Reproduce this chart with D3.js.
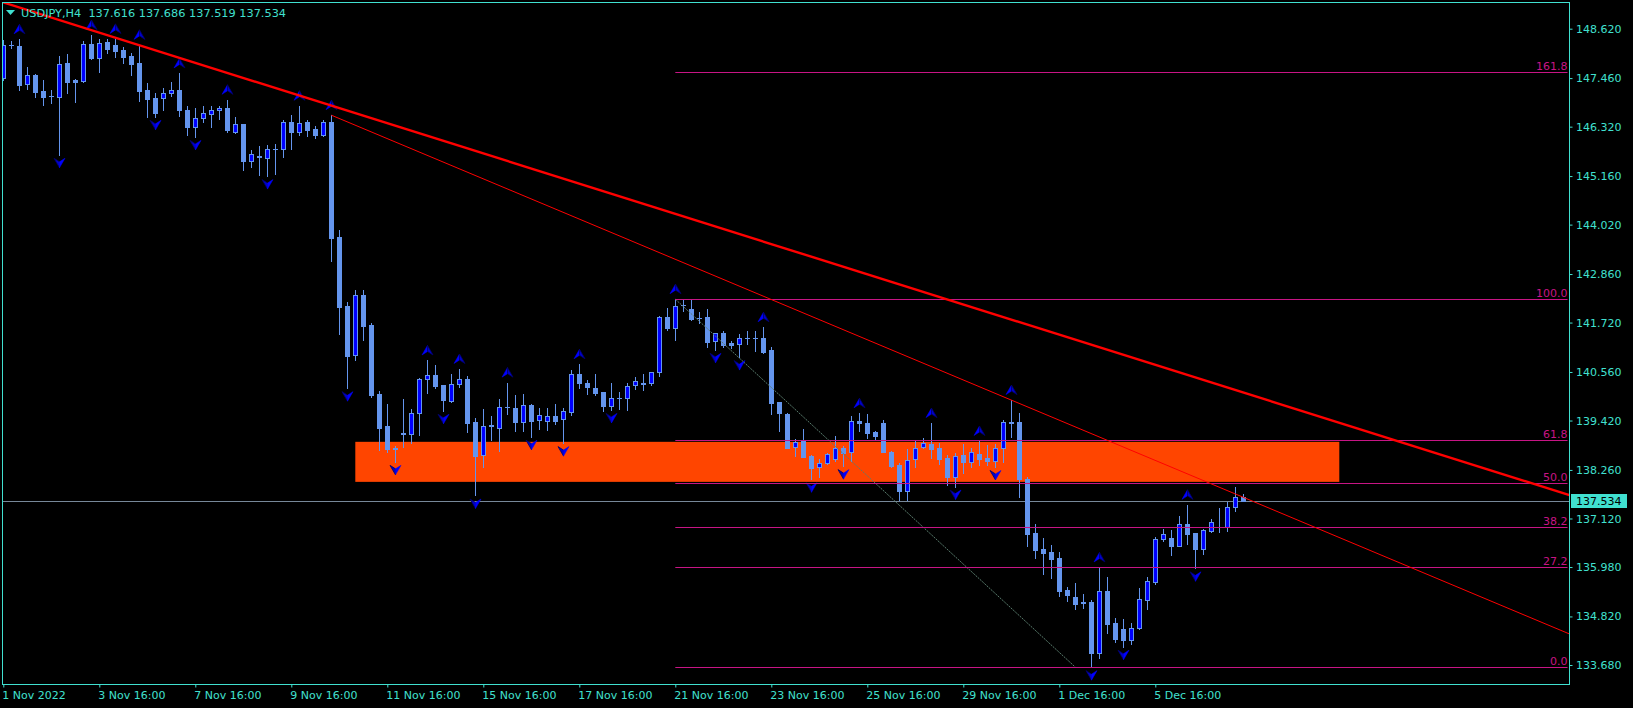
<!DOCTYPE html>
<html><head><meta charset="utf-8">
<script src="https://cdn.jsdelivr.net/npm/d3@7"></script>
<style>html,body{margin:0;padding:0;background:#000;overflow:hidden}</style>
</head><body><svg id="c" width="1633" height="708"></svg>
<script>
// ---------- DATA ----------
const symbol = "USDJPY,H4";
const quote = [137.616, 137.686, 137.519, 137.534];
const opens = [147.46,148.24,148.21,147.32,147.53,147.16,147.04,147.01,147.81,147.42,147.39,148.26,147.94,148.30,148.24,148.12,147.98,147.82,147.18,146.99,
147.00,147.10,147.18,146.71,146.32,146.52,146.61,146.70,146.76,146.20,146.38,145.52,145.63,145.59,145.79,145.79,146.43,146.20,146.43,146.27,
146.12,146.43,143.73,142.11,140.96,142.37,141.66,140.04,139.28,138.77,139.13,139.10,139.59,140.39,140.48,140.25,139.87,140.27,140.40,139.38,
138.60,139.32,139.24,139.74,139.72,139.39,139.79,139.43,139.41,139.53,139.45,139.63,140.51,140.30,140.18,140.09,139.77,139.94,139.94,140.25,
140.28,140.29,140.55,141.84,141.60,142.13,142.03,141.83,141.84,141.29,141.47,141.25,141.21,141.35,141.35,141.35,141.08,139.85,139.57,138.79,
138.94,138.59,138.32,138.42,138.51,138.78,138.67,139.41,139.36,139.14,139.36,138.69,138.38,137.77,138.51,138.81,138.87,138.78,138.53,138.10,
138.61,138.45,138.63,138.55,138.48,138.77,139.38,139.38,138.05,136.77,136.40,136.33,136.19,135.44,135.27,135.17,135.15,133.97,135.42,134.66,
134.53,134.26,134.54,135.21,135.64,136.63,136.67,136.48,136.99,136.78,136.40,136.83,136.93,136.93,137.38,137.616];
const highs = [148.36,148.32,148.37,147.73,147.56,147.42,147.18,147.98,148.03,147.43,148.32,148.47,148.38,148.37,148.38,148.18,148.04,148.24,147.34,147.10,
147.22,147.36,147.57,146.81,146.75,146.81,146.81,146.81,146.95,146.55,146.39,145.77,145.87,145.89,145.91,146.48,146.59,146.81,146.48,146.34,
146.48,146.59,143.89,142.21,142.49,142.49,141.72,140.11,139.81,138.82,139.93,139.69,140.43,140.83,140.72,140.26,140.51,140.63,140.47,139.48,
139.69,139.53,139.93,140.31,140.02,140.04,139.81,139.72,139.72,139.80,139.71,140.61,140.74,140.37,140.51,140.10,140.29,140.10,140.29,140.44,
140.51,140.56,141.88,142.07,142.27,142.25,142.25,141.96,142.03,141.47,141.53,141.29,141.44,141.52,141.52,141.61,141.14,139.86,139.59,138.98,
139.22,138.60,138.52,138.65,139.06,138.82,139.53,139.59,139.57,139.17,139.43,138.70,138.42,138.75,138.94,139.00,139.36,138.89,138.61,138.65,
138.86,138.77,138.94,138.85,138.87,139.43,139.90,139.60,138.10,136.99,136.67,136.50,136.33,135.52,135.60,135.34,135.21,135.97,135.74,134.78,
134.75,134.66,135.48,135.75,136.69,136.87,136.85,137.19,137.44,136.79,136.87,137.10,137.36,137.50,137.85,137.686];
const lows = [147.42,148.16,147.18,147.20,147.02,146.83,146.87,145.66,147.12,146.91,147.36,147.91,147.61,148.06,147.96,147.82,147.53,146.92,146.55,146.55,
146.70,147.05,146.57,146.12,146.08,146.44,146.32,146.50,146.20,146.16,145.30,145.38,145.19,145.16,145.21,145.60,145.80,146.12,146.10,146.06,
146.11,143.17,141.45,140.18,140.83,141.31,139.98,138.73,138.67,138.45,138.79,138.90,139.09,140.07,140.19,139.65,139.86,140.21,139.16,137.66,
138.34,138.96,138.70,139.57,139.17,139.17,139.04,139.23,139.20,139.34,138.89,139.55,140.18,140.04,140.02,139.65,139.67,139.69,139.67,140.16,
140.14,140.25,140.47,141.55,141.31,142.00,141.78,141.70,141.15,141.08,141.14,141.13,140.91,141.21,141.05,141.00,139.57,139.17,138.77,138.59,
138.56,138.04,138.09,138.39,138.48,138.35,138.48,139.18,139.02,138.98,138.67,138.34,137.55,137.55,138.34,138.77,138.53,138.39,137.91,137.87,
138.18,138.32,138.38,138.38,138.33,138.45,139.04,137.63,136.48,136.20,135.82,135.73,135.31,135.19,135.00,135.03,133.63,133.85,134.42,134.23,
134.11,134.17,134.53,135.00,135.58,136.60,136.26,136.47,136.52,135.95,136.29,136.81,136.80,136.83,137.30,137.519];
const closes = [148.24,148.23,147.30,147.53,147.14,147.02,147.03,147.78,147.38,147.38,148.25,147.94,148.28,148.14,148.10,147.96,147.79,147.16,146.97,146.65,
147.10,147.18,146.70,146.32,146.52,146.63,146.71,146.76,146.23,146.38,145.52,145.67,145.60,145.79,145.80,146.43,146.20,146.40,146.24,146.12,
146.43,143.71,142.09,140.94,142.37,141.64,140.02,139.25,138.75,138.76,139.10,139.59,140.40,140.48,140.23,139.90,140.27,140.39,139.37,138.59,
139.29,139.28,139.73,139.73,139.39,139.79,139.41,139.54,139.53,139.42,139.64,140.51,140.29,140.21,140.07,139.76,139.94,139.95,140.24,140.34,
140.29,140.55,141.84,141.59,142.11,142.14,141.80,141.83,141.27,141.47,141.19,141.19,141.35,141.36,141.35,141.04,139.84,139.59,138.78,138.92,
138.57,138.31,138.42,138.63,138.77,138.65,139.41,139.36,139.13,139.06,138.69,138.36,137.77,138.49,138.78,138.90,138.75,138.52,138.10,138.59,
138.45,138.69,138.52,138.47,138.77,139.38,139.37,138.05,136.76,136.38,136.32,136.17,135.42,135.32,135.12,135.13,133.97,135.42,134.65,134.30,
134.26,134.54,135.22,135.65,136.63,136.76,136.48,136.98,136.76,136.40,136.84,137.03,136.93,137.38,137.62,137.534];
const priceTicks = [148.62,147.46,146.32,145.16,144.02,142.86,141.72,140.56,139.42,138.26,137.12,135.98,134.82,133.68];
const timeTickBars = [0,12,24,36,48,60,72,84,96,108,120,132,144];
const timeLabels = ["1 Nov 2022","3 Nov 16:00","7 Nov 16:00","9 Nov 16:00","11 Nov 16:00","15 Nov 16:00","17 Nov 16:00",
  "21 Nov 16:00","23 Nov 16:00","25 Nov 16:00","29 Nov 16:00","1 Dec 16:00","5 Dec 16:00"];
const upFractalBars = [2,11,14,17,22,28,37,41,53,57,63,72,84,95,107,116,122,126,137,148];
const downFractalBars = [7,19,24,33,43,49,55,59,66,70,76,89,92,101,105,119,124,136,140,149];
const zoneBars = [44, 167];
const zonePrices = [138.92, 137.98];
const fibBars = [84, 134];
const fibPrices = [142.27, 133.63];
const fibLevels = [0, 27.2, 38.2, 50, 61.8, 100, 161.8];
const trendMainBars = [0, 155];
const trendMainPrices = [149.236, 140.077];
const trendSecBars = [41, 126];
const trendSecPrices = [146.59, 139.90];
const lastPrice = 137.534;

// ---------- LAYOUT ----------
const L = 2.5, R = 1569.5, T = 2.5, B = 684.5;
const AX = "#40E0D0", BULL = "#0000FF", WICK = "#6495ED", FIB = "#C71585";
const FONT = "DejaVu Sans";
const svg = d3.select("#c");
svg.append("rect").attr("width",1633).attr("height",708).attr("fill","#000");
svg.append("defs").append("clipPath").attr("id","clip")
  .append("rect").attr("x",L).attr("y",T).attr("width",R-L).attr("height",B-T);

const x = d3.scaleLinear().domain([0,195]).range([3.3, 3.3+8*195]);
const y = d3.scaleLinear().domain([133.68,148.62]).range([665,28.7]);
const g = svg.append("g").attr("clip-path","url(#clip)");

// zone rectangle
g.append("rect")
  .attr("x", x(zoneBars[0])).attr("width", x(zoneBars[1]) - x(zoneBars[0]))
  .attr("y", y(zonePrices[0])).attr("height", y(zonePrices[1]) - y(zonePrices[0]))
  .attr("fill","#FF4500");

// current price line
g.append("line").attr("x1",L).attr("x2",R)
  .attr("y1",Math.round(y(lastPrice))+0.5).attr("y2",Math.round(y(lastPrice))+0.5)
  .attr("stroke","#778899").attr("stroke-width",1);

// candles
const candles = d3.range(opens.length).map(i => ({i, o:opens[i], h:highs[i], l:lows[i], c:closes[i]}));
g.selectAll("line.wick").data(candles).join("line").attr("class","wick")
  .attr("x1", d => Math.round(x(d.i))+0.5).attr("x2", d => Math.round(x(d.i))+0.5)
  .attr("y1", d => Math.round(y(d.h))).attr("y2", d => Math.round(y(d.l))+1)
  .attr("stroke", WICK).attr("stroke-width",1);
candles.forEach(d => {
  const cx = Math.round(x(d.i));
  const yt = Math.round(y(Math.max(d.o,d.c))), yb = Math.round(y(Math.min(d.o,d.c)));
  const h = yb - yt;
  if (h < 2) {
    g.append("rect").attr("x",cx-2).attr("y",yt).attr("width",5).attr("height",Math.max(1,h+1)).attr("fill",WICK);
  } else if (d.c > d.o) {
    g.append("rect").attr("x",cx-1.5).attr("y",yt+0.5).attr("width",4).attr("height",h)
      .attr("fill",BULL).attr("stroke",WICK).attr("stroke-width",1);
  } else {
    g.append("rect").attr("x",cx-2).attr("y",yt).attr("width",5).attr("height",h+1).attr("fill",WICK);
  }
});

// fractals (3D arrowheads)
function arrowParts(cx, tip, base, dir) {
  // dir = -1 : pointing up (tip above base); +1 : pointing down
  const notch = base + 3.5 * dir;
  return [
    `M${cx},${tip} L${cx-5.5},${base} L${cx},${notch} Z`,
    `M${cx},${tip} L${cx+5.5},${base} L${cx},${notch} Z`
  ];
}
upFractalBars.forEach(i => {
  const cx = Math.round(x(i)) + 0.5, base = y(highs[i]) - 5.5;
  const [a, b] = arrowParts(cx, base - 9.5, base, -1);
  g.append("path").attr("d", a).attr("fill", "#0000FF").attr("stroke","#0000FF").attr("stroke-width",0.5);
  g.append("path").attr("d", b).attr("fill", "#0000C8").attr("stroke","#00006A").attr("stroke-width",0.8);
});
downFractalBars.forEach(i => {
  const cx = Math.round(x(i)) + 0.5, base = y(lows[i]) + 3.5;
  const [a, b] = arrowParts(cx, base + 9.5, base, 1);
  g.append("path").attr("d", a).attr("fill", "#0000C8").attr("stroke","#00006A").attr("stroke-width",0.8);
  g.append("path").attr("d", b).attr("fill", "#0000FF").attr("stroke","#0000FF").attr("stroke-width",0.5);
});

// fibonacci
const fibRange = fibPrices[0] - fibPrices[1];
g.append("line")
  .attr("x1", x(fibBars[0])).attr("y1", y(fibPrices[0]))
  .attr("x2", x(fibBars[1])).attr("y2", y(fibPrices[1]))
  .attr("stroke","#5a7d6e").attr("stroke-width",1).attr("stroke-dasharray","2,1");
fibLevels.forEach(lv => {
  const p = fibPrices[1] + fibRange * lv / 100;
  const yy = Math.round(y(p)) + 0.5;
  g.append("line").attr("x1", x(fibBars[0])).attr("x2", R-2).attr("y1",yy).attr("y2",yy)
    .attr("stroke",FIB).attr("stroke-width",1);
  g.append("text").attr("x", R-2).attr("y", yy-2.5).attr("text-anchor","end")
    .attr("font-family",FONT).attr("font-size",11).attr("fill",FIB).text(lv.toFixed(1));
});

// trend lines
function priceAt(bars, prices, b) {
  return prices[0] + (prices[1]-prices[0]) * (b - bars[0]) / (bars[1]-bars[0]);
}
const bL = x.invert(L), bR = x.invert(R);
g.append("line")
  .attr("x1", x(bL)).attr("y1", y(priceAt(trendMainBars, trendMainPrices, bL)))
  .attr("x2", x(bR)).attr("y2", y(priceAt(trendMainBars, trendMainPrices, bR)))
  .attr("stroke","#FF0000").attr("stroke-width",2.4);
g.append("line")
  .attr("x1", x(trendSecBars[0])).attr("y1", y(trendSecPrices[0]))
  .attr("x2", x(bR)).attr("y2", y(priceAt(trendSecBars, trendSecPrices, bR)))
  .attr("stroke","#FF0000").attr("stroke-width",1);

// frame
svg.append("rect").attr("x",L).attr("y",T).attr("width",R-L).attr("height",B-T)
  .attr("fill","none").attr("stroke",AX).attr("stroke-width",1);

// price axis
const yAxis = svg.append("g").attr("transform",`translate(${R},0)`)
  .call(d3.axisRight(y).tickValues(priceTicks).tickFormat(d3.format(".3f")).tickSize(3).tickPadding(3.5));
yAxis.select(".domain").remove();
yAxis.selectAll("line").attr("stroke",AX);
yAxis.selectAll("text").attr("fill",AX).attr("font-family",FONT).attr("font-size",11);

// time axis
const xAxis = svg.append("g").attr("transform",`translate(0,${B})`)
  .call(d3.axisBottom(x).tickValues(timeTickBars).tickFormat((d,i) => timeLabels[i]).tickSize(3));
xAxis.select(".domain").remove();
xAxis.selectAll("line").attr("stroke",AX);
xAxis.selectAll("text").attr("fill",AX).attr("font-family",FONT).attr("font-size",11)
  .attr("text-anchor","start").attr("x",-1.5).attr("y",14.5).attr("dy",null);

// last price label
const ly = Math.round(y(lastPrice));
svg.append("rect").attr("x",1571).attr("y",ly-7).attr("width",56).attr("height",14).attr("fill",AX);
svg.append("text").attr("x",1576).attr("y",ly+4).attr("font-family",FONT).attr("font-size",11)
  .attr("fill","#000").text(lastPrice.toFixed(3));

// title
svg.append("path").attr("d","M6,10 L15,10 L10.5,15 Z").attr("fill",AX);
svg.append("text").attr("x",21).attr("y",17).attr("font-family",FONT).attr("font-size",11.3)
  .attr("fill",AX).attr("xml:space","preserve")
  .text(symbol + "  " + quote.map(v => v.toFixed(3)).join(" "));
</script></body></html>
